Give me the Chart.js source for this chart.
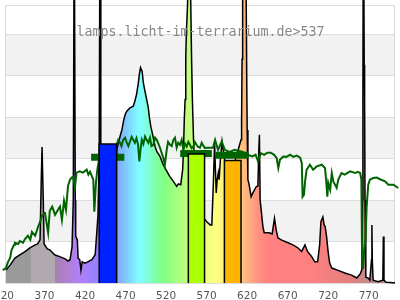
<!DOCTYPE html>
<html><head><meta charset="utf-8">
<script src="https://cdn.jsdelivr.net/npm/chart.js@4"></script>
<style>html,body{margin:0;padding:0;background:#fff;}#wrap{width:400px;height:300px;position:relative;}</style>
</head><body><div id="wrap"><canvas id="c"></canvas></div>
<script>
const titleText = 'lamps.licht-im-terrarium.de>537';
const tickLabels = [320, 370, 420, 470, 520, 570, 620, 670, 720, 770];

const specNm = [320,325,331,337,343,350,356,359,362,363.5,364.5,366,367,371,374,380,387,393,396.5,399,401.5,403,404.2,405.5,406,408,409,411,412.5,414,417.5,421,426,430,432,433.5,435,436,437,438.5,442,448,455,456.6,460.7,463,465,467,469,473,477,479,481,483,484.5,486,488,489.5,491.5,493.6,495.6,497,498.6,501,504,506,510,514,516,522,526.5,530.6,532.6,535.6,538,539,540,541,541.8,542.5,544,545,546,547,549,550,551.4,553,559.4,564.7,568,572,574,576,577.4,578.4,579.4,580.6,582,583,584.5,586.6,588,589.8,597,603,610,610.7,611.3,612,613.6,616,617,617.6,618.5,620,622.5,624.6,628.7,630.8,632,632.7,633.6,635.5,637,638.6,644.7,648.4,651.3,653.4,655.5,659.6,668,674,680,684.8,688.9,692,697,701,704.5,707,708.6,711,712.5,713.8,715.6,717.5,719.4,722,729,738,746.5,752.8,757,759,760,760.4,761,762,762.5,763,764,767,769,771,771.5,772,773,779,785,785.6,786.4,789,794,800];
const specVal = [0.31,0.43,0.60,0.68,0.75,0.85,0.92,0.94,1.04,2.49,3.28,2.0,0.94,0.82,0.80,0.68,0.63,0.58,0.53,0.56,0.87,2.0,9,2.0,1.13,1.04,0.60,0.56,0.31,0.51,0.48,0.51,0.56,0.68,1.21,1.64,3.2,9,3.2,2.0,1.28,1.52,2.25,3.21,3.53,3.69,3.90,4.06,4.14,4.22,4.26,4.38,4.54,4.78,5.02,5.19,5.10,4.82,4.62,4.42,4.22,3.98,3.78,3.57,3.29,3.17,3.05,2.85,2.78,2.57,2.45,2.33,2.39,2.37,2.73,3.21,3.94,4.42,5.39,6.0,6.7,8,12,8,5.4,4.42,3.45,2.73,2.0,1.55,1.47,1.40,1.40,2.49,3.38,2.73,2.17,2.49,2.66,2.49,2.97,3.41,3.21,2.97,2.73,2.97,3.45,3.89,5.39,8,12,8,5.07,3.69,2.49,2.37,2.08,2.17,2.32,2.34,3.21,3.57,2.0,1.64,1.36,1.21,1.21,1.18,1.56,1.28,1.09,1.04,0.97,0.92,0.85,0.76,0.92,0.76,0.64,0.51,0.51,0.92,1.48,1.59,1.40,1.36,1.11,0.75,0.48,0.36,0.31,0.24,0.19,0.12,0.22,0.31,2.0,4.4,10,5.26,4.42,2.0,0.14,0.12,0.07,0.56,1.40,0.56,0.07,0.03,0.07,1.12,0.07,0.02,0.01,0];

const refNm = [314,316,320,322.5,325,327,330,331,335,337,341,343.5,347,350,352,356,359.5,362,364.4,367,368,370.6,372,374,377,380.5,384,386.6,389,391.6,394,396.5,399,401,403,405,407,411,415,419.6,421.6,423.7,427.7,429,431,432.7,434.8,446,456.6,458.5,460.7,462.5,464.7,467,469,471,473,475,477,479,481,483,484.5,486,487.5,489.5,491.5,493.5,495.6,497.7,499.5,501.8,504,506,508,510,514,516,518.3,520,522.4,524.5,526.5,528.5,530.6,532.5,534.7,536.8,538.8,541,543,545,547,549,551,553,555,557,559.4,561.5,563.5,565.5,567.7,571.7,575.4,578,581.6,586.2,590,596,602,610,614,618,624,628,631,634.4,638.5,642.6,646.7,650.9,654,656,658,662,666,670.5,674.5,678.7,683,685,686,687.7,689,691,695,699,703.4,709.6,713.6,715,716.5,717.7,720,722,724,726,728,730,734,738,744.5,750.7,754,757,758.5,759.5,760.6,762,763.6,765,767,769,773,777.5,781.5,787.7,791.8,798,804];
const refVal = [0.19,0.31,0.36,0.51,0.60,0.80,0.92,0.97,0.94,1.01,0.97,1.06,1.14,1.04,1.23,1.14,1.35,1.47,1.62,1.67,1.71,1.38,1.21,1.74,1.84,1.64,1.76,1.84,1.52,1.98,1.76,2.34,2.49,2.54,2.56,2.29,2.66,2.69,2.66,2.73,2.61,2.68,2.49,1.72,2.42,2.73,2.97,3.21,3.33,3.45,3.38,3.30,3.45,3.50,3.38,3.30,3.41,3.52,3.45,3.38,3.49,3.33,2.93,3.21,3.45,3.35,3.53,3.45,3.38,3.50,3.30,3.33,3.50,3.45,3.36,3.26,3.02,2.85,3.21,3.40,3.33,3.30,3.45,3.50,3.26,3.38,3.33,3.45,3.21,3.36,3.29,3.40,3.33,3.25,3.28,3.40,3.33,3.28,3.26,3.38,3.31,3.25,3.26,3.26,3.26,3.45,3.21,3.41,3.21,3.16,3.21,3.17,3.14,3.09,3.05,3.09,2.93,3.13,3.09,3.14,3.14,3.09,3.01,2.77,2.97,3.05,3.04,3.09,3.04,3.07,3.02,2.89,2.08,2.13,2.45,2.73,2.85,2.73,2.81,2.85,2.77,2.49,2.08,2.41,2.25,2.65,2.44,2.37,2.29,2.49,2.65,2.61,2.69,2.65,2.68,2.65,2.49,0.36,0.36,0.80,1.04,1.84,2.37,2.49,2.53,2.54,2.50,2.45,2.37,2.37,2.29];

const bandNames = ['blue', 'green', 'orange'];
const bandFrom = [435, 545, 589.5];
const bandTo = [456.5, 565, 610];
const bandVal = [3.35, 3.11, 2.95];
const markFrom = [425, 535, 579];
const markTo = [466, 574, 619];
const markVal = [3.03, 3.12, 3.08];

const gradNm = [320,350,351,380,381,395,410,425,435,445,458,470,482,487,495,505,515,528,545,565,578,590,605,612,622,632,645,700,720,750,760,800];
const gradColors = ['#9a9a9a','#9a9a9a','#b0a9b0','#b0a9b0','#a880b0','#b080d0','#b080f8','#a080ff','#9080ff','#8080ff','#80a8ff','#80d0ff','#80f8ff','#80ffff','#80ffd8','#80ffa8','#80ff80','#a0ff80','#c0ff80','#e8ff80','#ffff80','#fff080','#ffd080','#ffc080','#ffa880','#ff9080','#ff8080','#ff8080','#f08080','#e08080','#c88888','#b08888'];
const bandColors = ['#0022ff', '#aaff00', '#ffb400'];

const xMin = 320, xMax = 800, yMax = 6.82, frameTop = 6.7;

function spectrumFill(chart) {
  const a = chart.chartArea;
  if (!a) return '#ccc';
  const x = chart.scales.x;
  const x0 = x.getPixelForValue(xMin), x1 = x.getPixelForValue(xMax);
  const g = chart.ctx.createLinearGradient(x0, 0, x1, 0);
  gradNm.forEach((nm, i) => g.addColorStop((nm - xMin) / (xMax - xMin), gradColors[i]));
  return g;
}

const datasets = [];
bandFrom.forEach((f, i) => datasets.push({
  label: bandNames[i],
  data: [{x: f, y: 0}, {x: f, y: bandVal[i]}, {x: bandTo[i], y: bandVal[i]}, {x: bandTo[i], y: 0}],
  borderColor: '#000', borderWidth: 1.5, backgroundColor: bandColors[i],
  fill: 'origin', order: 0, clip: false, pointRadius: 0
}));
markFrom.forEach((f, i) => datasets.push({
  label: 'mark ' + bandNames[i],
  data: [{x: f, y: markVal[i]}, {x: markTo[i], y: markVal[i]}],
  borderColor: '#006400', borderWidth: 7, borderCapStyle: 'butt',
  fill: false, order: 1, clip: false, pointRadius: 0
}));
datasets.push({
  label: 'reference',
  data: refNm.map((nm, i) => ({x: nm, y: refVal[i]})),
  borderColor: '#006400', borderWidth: 2, fill: false, order: 2, clip: false, pointRadius: 0
});
datasets.push({
  label: 'spectrum',
  data: specNm.map((nm, i) => ({x: nm, y: specVal[i]})),
  borderColor: '#000', borderWidth: 1.5,
  backgroundColor: (c) => spectrumFill(c.chart),
  fill: 'origin', order: 3, clip: false, pointRadius: 0
});

const deco = {
  id: 'deco',
  beforeDraw(chart) {
    const {ctx, chartArea: a, scales: {y}} = chart;
    ctx.save();
    ctx.fillStyle = '#fff';
    ctx.fillRect(0, 0, chart.width, chart.height);
    ctx.fillStyle = '#f2f2f2';
    for (let k = 1; k < 6; k += 2) {
      const t = Math.round(y.getPixelForValue(k + 1)), b = Math.round(y.getPixelForValue(k));
      ctx.fillRect(a.left, t, a.right - a.left, b - t);
    }
    ctx.restore();
  },
  beforeDatasetsDraw(chart) {
    const {ctx, chartArea: a, scales: {y}} = chart;
    const top = Math.round(y.getPixelForValue(frameTop)) + 0.5;
    ctx.save();
    ctx.strokeStyle = '#dddddd';
    ctx.lineWidth = 1;
    ctx.beginPath();
    ctx.moveTo(a.left - 0.5, a.bottom);
    ctx.lineTo(a.left - 0.5, top);
    ctx.lineTo(a.right - 0.5, top);
    ctx.lineTo(a.right - 0.5, a.bottom);
    ctx.stroke();
    ctx.restore();
  },
  afterDraw(chart) {
    const {ctx, chartArea: a, scales: {x}} = chart;
    ctx.save();
    ctx.font = '10.5px "DejaVu Sans"';
    ctx.fillStyle = '#555';
    ctx.textAlign = 'center';
    ctx.textBaseline = 'alphabetic';
    tickLabels.forEach(v => ctx.fillText(String(v), x.getPixelForValue(v) - 2, 299));
    ctx.font = '13.3px "DejaVu Sans Mono"';
    ctx.fillStyle = '#888';
    ctx.fillText(titleText, (a.left + a.right) / 2, 36);
    ctx.restore();
  }
};

new Chart(document.getElementById('c'), {
  type: 'line',
  data: {datasets},
  options: {
    responsive: true, maintainAspectRatio: false, animation: false,
    devicePixelRatio: 1,
    layout: {padding: {left: 6, right: 5, top: 0, bottom: 17}},
    plugins: {legend: {display: false}, tooltip: {enabled: false}},
    elements: {line: {tension: 0}},
    scales: {
      x: {type: 'linear', min: xMin, max: xMax, display: false},
      y: {
        min: 0, max: yMax,
        ticks: {display: false, stepSize: 1, includeBounds: false},
        grid: {color: '#dddddd', lineWidth: 1, drawTicks: false},
        border: {display: false},
        afterFit: (s) => { s.width = 0; }
      }
    }
  },
  plugins: [deco]
});
</script></body></html>
